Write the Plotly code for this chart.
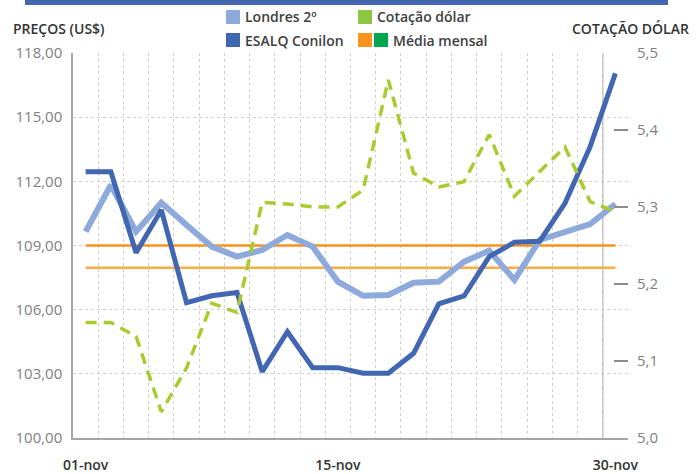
import plotly.graph_objects as go

# ---- data ----
dates = ["01-nov", "02-nov", "03-nov", "04-nov", "05-nov", "08-nov", "09-nov", "10-nov",
         "11-nov", "12-nov", "15-nov", "16-nov", "17-nov", "18-nov", "19-nov", "22-nov",
         "23-nov", "24-nov", "25-nov", "26-nov", "29-nov", "30-nov"]
tick_labels = ["01-nov", "15-nov", "30-nov"]
londres = [109.65, 111.83, 109.65, 111.00, 109.96, 108.95, 108.48, 108.79, 109.49, 108.95,
           107.31, 106.65, 106.69, 107.26, 107.31, 108.24, 108.76, 107.39, 109.26, 109.60,
           110.00, 110.94]
esalq = [112.45, 112.45, 108.66, 110.66, 106.33, 106.65, 106.80, 103.10, 104.97, 103.29,
         103.29, 103.03, 103.03, 103.96, 106.27, 106.64, 108.48, 109.15, 109.20, 110.97,
         113.62, 117.05]
dolar = [5.150, 5.150, 5.132, 5.034, 5.091, 5.175, 5.163, 5.306, 5.304, 5.300, 5.300,
         5.322, 5.465, 5.344, 5.326, 5.333, 5.394, 5.314, 5.346, 5.378, 5.307, 5.294]
media_londres = 109.0
media_esalq = 107.96

# ---- layout geometry (pixels) ----
W, H = 698, 474
L, R, T, B = 73, 628, 53, 438


def px(x):
    return (x - L) / (R - L)


def py(y):
    return (B - y) / (B - T)


idx = list(range(len(dates)))
tickvals = [dates.index(t) for t in tick_labels]

fig = go.Figure()
fig.add_trace(go.Scatter(x=idx, y=[media_londres] * len(idx), mode="lines",
                         line=dict(color="#F7931E", width=2.5), hoverinfo="skip"))
fig.add_trace(go.Scatter(x=idx, y=[media_esalq] * len(idx), mode="lines",
                         line=dict(color="#F9AC45", width=2.5), hoverinfo="skip"))
fig.add_trace(go.Scatter(x=idx, y=londres, mode="lines", name="Londres 2º",
                         line=dict(color="#8EA9DB", width=6)))
fig.add_trace(go.Scatter(x=idx, y=esalq, mode="lines", name="ESALQ Conilon",
                         line=dict(color="#4267B2", width=5)))
fig.add_trace(go.Scatter(x=idx, y=dolar, mode="lines", name="Cotação dólar", yaxis="y2",
                         line=dict(color="#A8CB2F", width=3.5, dash="11px,7px")))

grid_col = "#D0D0D0"
fig.update_layout(
    template="none",
    width=W, height=H,
    margin=dict(l=L, r=W - R, t=T, b=H - B, pad=0),
    paper_bgcolor="white", plot_bgcolor="white",
    showlegend=False,
    separators=",.",
    font=dict(family="Open Sans", size=15, color="#7F7F7F"),
    xaxis=dict(
        automargin=False,
        range=[-0.5, len(idx) - 0.5],
        tickmode="array", tickvals=tickvals, ticktext=tick_labels,
        tickfont=dict(color="#333333", size=14, weight=600),
        showgrid=False, zeroline=False, ticks="", ticklabelstandoff=13,
        showline=True, linecolor="#A6A6A6", linewidth=1.5,
        minor=dict(tickmode="array", tickvals=[i - 0.5 for i in idx] + [len(idx) - 0.5],
                   showgrid=True, gridcolor=grid_col, griddash="dot", gridwidth=1, ticks=""),
    ),
    yaxis=dict(
        automargin=False,
        range=[100, 118], dtick=3, tick0=100, tickformat=".2f",
        showgrid=True, gridcolor=grid_col, griddash="dot", gridwidth=1,
        zeroline=False, showline=True, linecolor="#A6A6A6", linewidth=1.5,
        ticks="", ticklabelstandoff=6,
    ),
    yaxis2=dict(
        automargin=False,
        range=[5.0, 5.5], dtick=0.1, tick0=5.0, tickformat=".1f",
        overlaying="y", side="right", showgrid=False, zeroline=False,
        ticks="inside", ticklen=14, tickcolor="#8C8C8C", tickwidth=1.5,
        showline=False, ticklabelstandoff=8,
    ),
)

# solid vertical separator before last day
fig.add_shape(type="line", xref="x", yref="paper", x0=len(idx) - 1.5, x1=len(idx) - 1.5,
              y0=0, y1=1, line=dict(color="#C0C0C0", width=1.5), layer="below")

# top blue band
fig.add_shape(type="rect", xref="paper", yref="paper", x0=px(25), x1=px(668),
              y0=py(5), y1=py(-2), fillcolor="#4466B0", line=dict(width=0))

# axis titles
fig.add_annotation(text="PREÇOS (US$)", xref="paper", yref="paper", x=px(11), y=py(28),
                   xanchor="left", yanchor="middle", showarrow=False,
                   font=dict(size=14, color="#333333", weight=600))
fig.add_annotation(text="COTAÇÃO DÓLAR", xref="paper", yref="paper", x=px(691), y=py(28),
                   xanchor="right", yanchor="middle", showarrow=False,
                   font=dict(size=14, color="#333333", weight=600))

# custom legend
legend_items = [
    (226, 17, ["#8EA9DB"], "Londres 2º"),
    (226, 40, ["#4267B2"], "ESALQ Conilon"),
    (358, 17, ["#8DC63F"], "Cotação dólar"),
    (358, 40, ["#F7941D", "#00A651"], "Média mensal"),
]
for x0, yc, cols, label in legend_items:
    for k, c in enumerate(cols):
        sx = x0 + k * 16
        fig.add_shape(type="rect", xref="paper", yref="paper", x0=px(sx), x1=px(sx + 14),
                      y0=py(yc + 7), y1=py(yc - 7), fillcolor=c, line=dict(width=0))
    tx = x0 + 16 * len(cols) + 1
    fig.add_annotation(text=label, xref="paper", yref="paper", x=px(tx), y=py(yc),
                       xanchor="left", yanchor="middle", showarrow=False,
                       font=dict(size=14, color="#404040", weight=600))

fig.write_html("out.html", config={"displayModeBar": False},
               post_script="document.body.style.margin='0';document.body.style.overflow='hidden';")
